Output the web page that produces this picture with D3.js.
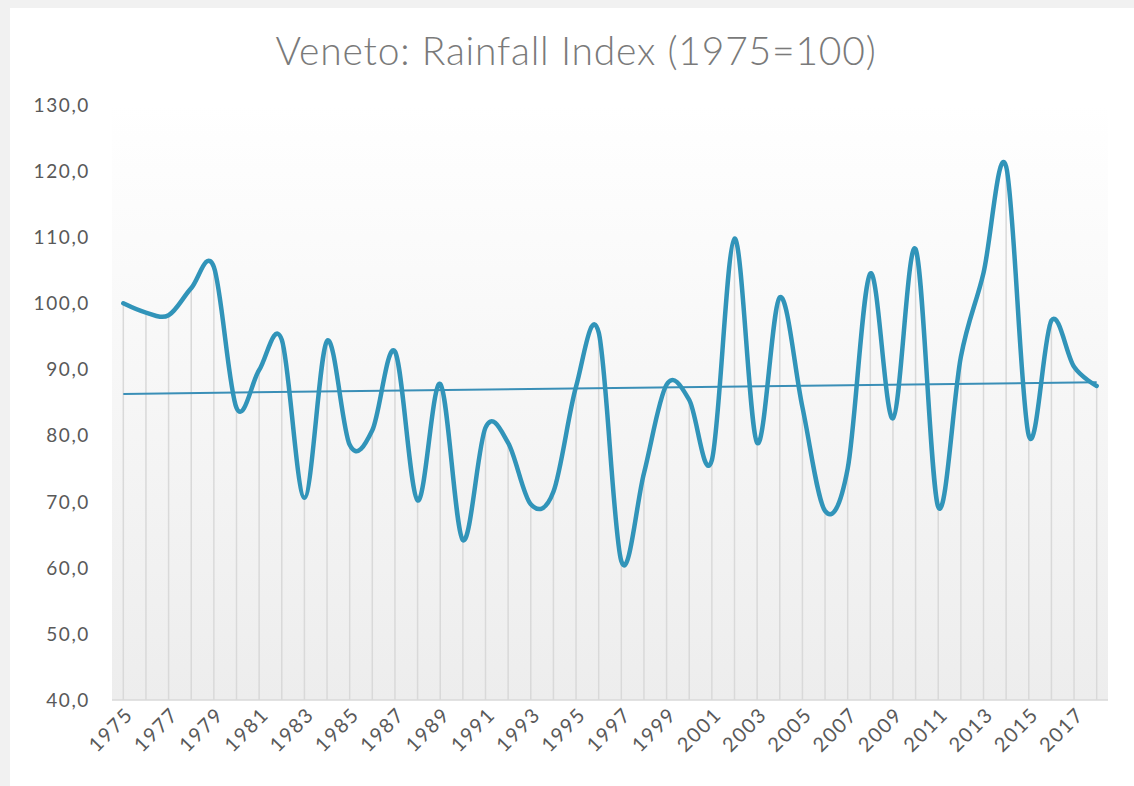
<!DOCTYPE html>
<html>
<head>
<meta charset="utf-8">
<script src="https://cdn.jsdelivr.net/npm/d3@7"></script>
<style>
  body { margin: 0; background: #f1f1f1; }
  svg { display: block; }
</style>
</head>
<body>
<div id="chart1"></div>
<script>
var w = 1134;
var h = 786;

// data
var years = d3.range(1975, 2019);
var rainfall = [100.0, 98.6, 98.2, 102.3, 105.5, 84.2, 89.9, 94.5, 70.6, 94.3,
                78.6, 80.8, 92.7, 70.2, 87.8, 64.2, 81.2, 78.9, 69.6, 71.5,
                87.4, 95.6, 61.0, 74.3, 87.7, 85.4, 76.3, 109.8, 78.9, 100.9,
                84.3, 68.6, 75.0, 104.5, 82.6, 108.2, 69.2, 91.9, 104.6, 120.7,
                80.0, 97.4, 90.4, 87.5];
var yTicks = [40, 50, 60, 70, 80, 90, 100, 110, 120, 130];
var xTickYears = years.filter(d => (d - 1975) % 2 === 0 && d < 2018);
var title = "Veneto: Rainfall Index (1975=100)";

var plotLeft = 112, plotRight = 1108, plotTop = 105, plotBottom = 700;

var xScale = d3.scaleBand()
               .domain(years)
               .range([plotLeft, plotRight]);
var yScale = d3.scaleLinear()
               .domain([40, 130])
               .range([plotBottom, plotTop]);

function xc(d) { return xScale(d) + xScale.bandwidth() / 2; }

function main() {
  var svg1 = d3.select("#chart1")
               .append("svg")
               .attr("width", w)
               .attr("height", h);

  // card
  svg1.append("rect")
      .attr("x", 10).attr("y", 8)
      .attr("width", w - 10).attr("height", h - 8)
      .attr("fill", "#ffffff");

  var defs = svg1.append("defs");
  var grad = defs.append("linearGradient")
                 .attr("id", "bg")
                 .attr("x1", 0).attr("y1", 0).attr("x2", 0).attr("y2", 1);
  grad.append("stop").attr("offset", "0%").attr("stop-color", "#ffffff");
  grad.append("stop").attr("offset", "100%").attr("stop-color", "#ededed");

  svg1.append("rect")
      .attr("x", plotLeft).attr("y", plotTop)
      .attr("width", plotRight - plotLeft).attr("height", plotBottom - plotTop)
      .attr("fill", "url(#bg)");

  //Title
  svg1.append("text")
      .attr("x", 576)
      .attr("y", 65)
      .attr("text-anchor", "middle")
      .attr("font-family", "Lato, sans-serif")
      .attr("font-weight", 300)
      .attr("font-size", "39px")
      .attr("letter-spacing", "0.8px")
      .attr("fill", "#7a7a7a")
      .text(title);

  var data = years.map((y, i) => ({year: y, value: rainfall[i]}));

  // drop lines
  svg1.selectAll(".drop")
      .data(data)
      .enter()
      .append("line")
      .attr("class", "drop")
      .attr("x1", d => xc(d.year))
      .attr("x2", d => xc(d.year))
      .attr("y1", d => yScale(d.value))
      .attr("y2", plotBottom)
      .attr("stroke", "#d9d9d9")
      .attr("stroke-width", 1.5);

  // x axis line
  svg1.append("line")
      .attr("x1", plotLeft).attr("x2", plotRight)
      .attr("y1", plotBottom).attr("y2", plotBottom)
      .attr("stroke", "#d9d9d9")
      .attr("stroke-width", 1.5);

  // y labels
  svg1.selectAll(".ylab")
      .data(yTicks)
      .enter()
      .append("text")
      .attr("class", "ylab")
      .attr("x", 90)
      .attr("y", d => yScale(d))
      .attr("dy", "0.36em")
      .attr("text-anchor", "end")
      .attr("font-family", "Lato, sans-serif")
      .attr("font-size", "19px")
      .attr("letter-spacing", "1.6px")
      .attr("fill", "#595959")
      .text(d => d3.format(".1f")(d).replace(".", ","));

  // x labels
  svg1.selectAll(".xlab")
      .data(xTickYears)
      .enter()
      .append("text")
      .attr("class", "xlab")
      .attr("transform", d => "translate(" + (xc(d) + 11) + "," + 716 + ") rotate(-45)")
      .attr("text-anchor", "end")
      .attr("font-family", "Lato, sans-serif")
      .attr("font-size", "20px")
      .attr("letter-spacing", "1.6px")
      .attr("fill", "#595959")
      .text(d => d);

  // linear trend
  var xs = d3.range(data.length);
  var mx = d3.mean(xs), my = d3.mean(rainfall);
  var slope = d3.sum(xs, i => (i - mx) * (rainfall[i] - my)) / d3.sum(xs, i => (i - mx) * (i - mx));
  var icpt = my - slope * mx;
  svg1.append("line")
      .attr("x1", xc(years[0]))
      .attr("x2", xc(years[years.length - 1]))
      .attr("y1", yScale(icpt))
      .attr("y2", yScale(icpt + slope * (data.length - 1)))
      .attr("stroke", "#3a8fb7")
      .attr("stroke-width", 2);

  // smoothed line
  var line = d3.line()
               .x(d => xc(d.year))
               .y(d => yScale(d.value))
               .curve(d3.curveCardinal.tension(0));
  svg1.append("path")
      .datum(data)
      .attr("d", line)
      .attr("fill", "none")
      .attr("stroke", "#3194b9")
      .attr("stroke-width", 4.5)
      .attr("stroke-linejoin", "round")
      .attr("stroke-linecap", "round");
}

window.onload = function() {
  main();
};
</script>
</body>
</html>
